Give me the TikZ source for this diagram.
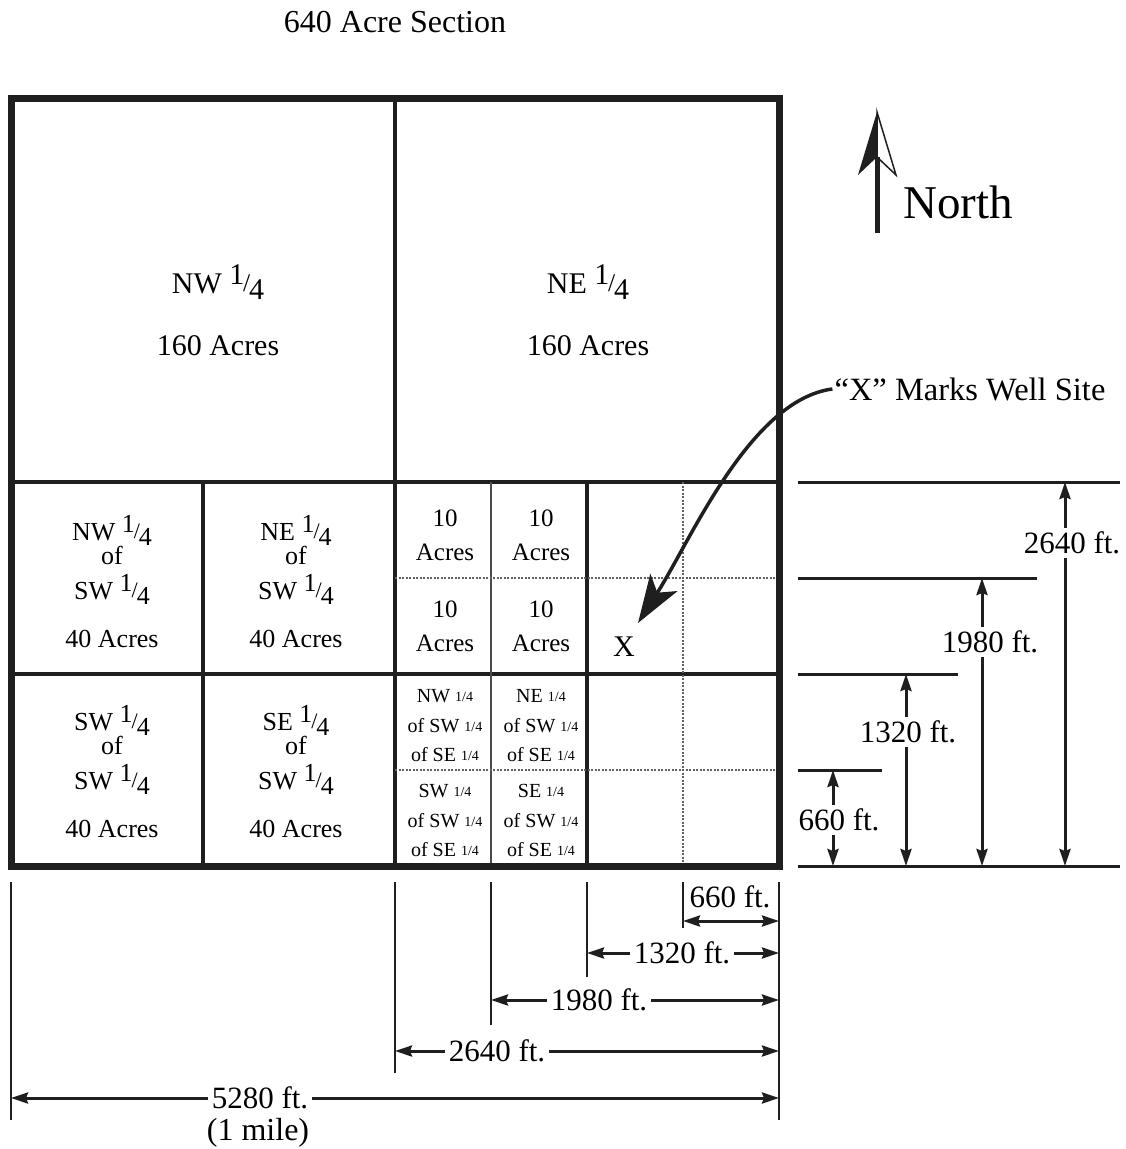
\documentclass[tikz,border=0pt]{standalone}
\usepackage{graphicx}
\usepackage{fontspec}
\setmainfont{Liberation Serif}
\usetikzlibrary{arrows.meta}
\newcommand\qf{\raisebox{.3em}{1}\kern-.04em\raisebox{.04em}{\scalebox{.85}{/}}\kern-.04em\raisebox{-.22em}{4}}
\newcommand\sq{\raisebox{.04em}{\fontsize{14}{14}\selectfont 1/4}}
\definecolor{ink}{gray}{0.12}
\begin{document}
\begin{tikzpicture}[x=1pt,y=-1pt,
  fs/.style={font=\fontsize{#1}{#1}\selectfont},
  txt/.style={inner sep=0pt, anchor=base},
  dlbl/.style={inner sep=4pt, anchor=center, fs=31},
  thickln/.style={draw=ink, line width=4pt},
  thinln/.style={draw=ink!80, line width=1.5pt},
  dashln/.style={draw=ink!70, line width=1.2pt, dash pattern=on 2pt off 1.5pt},
  extln/.style={draw=ink, line width=2.5pt},
  dimln/.style={draw=ink, line width=3pt},
  dtip/.tip={Stealth[length=17pt,width=11pt,inset=2pt]}]
\fill[white] (0,0) rectangle (1126,1149);
\useasboundingbox (0,0) rectangle (1126,1149);

% ---------- grid ----------
\draw[thickln] (395,98) -- (395,866);
\draw[thickln] (11,482) -- (779,482);
\draw[thickln] (11,674) -- (779,674);
\draw[thickln] (203,482) -- (203,866);
\draw[thickln] (587,482) -- (587,866);
\draw[thinln] (491,482) -- (491,866);
\draw[dashln] (395,578) -- (779,578);
\draw[dashln] (395,770) -- (779,770);
\draw[dashln] (683,482) -- (683,866);
\draw[draw=ink, line width=7pt] (11,98) rectangle (779,866);

% ---------- title ----------
\node[txt,fs=32] (title) at (395,32) {640 Acre Section};

% ---------- quarters ----------
\node[txt,fs=30] (nwq) at (218,293) {NW \qf};
\node[txt,fs=30] (nwa) at (218,355) {160 Acres};
\node[txt,fs=30] (neq) at (588,293) {NE \qf};
\node[txt,fs=30] (nea) at (588,355) {160 Acres};

% ---------- 40 acre cells ----------
\foreach \cx/\cy/\a/\id in {112/540/NW/ca, 296/540/NE/cb, 112/730/SW/cc, 296/730/SE/cd} {
  \node[txt,fs=26] (\id1) at (\cx,\cy) {\a\ \qf};
  \node[txt,fs=26] (\id2) at (\cx,\cy+24) {of};
  \node[txt,fs=26] (\id3) at (\cx,\cy+59) {SW \qf};
  \node[txt,fs=26] (\id4) at (\cx,\cy+107) {40 Acres};
}

% ---------- 10 acre cells ----------
\foreach \cx/\cy/\id in {445/526/ta, 541/526/tb, 445/617/tc, 541/617/td} {
  \node[txt,fs=25] (\id1) at (\cx,\cy) {10};
  \node[txt,fs=25] (\id2) at (\cx,\cy+34) {Acres};
}

% ---------- 2.5 acre cells ----------
\foreach \cx/\cy/\a/\id in {445/702/NW/sa, 541/702/NE/sb, 445/797/SW/sc, 541/797/SE/sd} {
  \node[txt,fs=20] (\id1) at (\cx,\cy) {\a\ \sq};
  \node[txt,fs=20] (\id2) at (\cx,\cy+30) {of SW \sq};
  \node[txt,fs=20] (\id3) at (\cx,\cy+59.5) {of SE \sq};
}

% ---------- well site ----------
\node[txt,fs=30] (xlbl) at (624,656) {X};
\node[txt,fs=32.5] (well) at (970,400) {“X” Marks Well Site};
\coordinate (wtip) at (638,623);
\draw[draw=ink, line width=3.5pt, -{Stealth[length=48pt,width=32pt,inset=12pt]}]
  ([xshift=-2pt]well.west) .. controls (750,400) and (691,540) .. (wtip);

% ---------- north ----------
\node[txt,fs=47,anchor=base west] (north) at (903,218) {North};
\draw[draw=ink, line width=5pt] (877,233) -- (877,157);
\fill[ink] (877,112) -- (858,175) -- (877,157) -- cycle;
\draw[draw=ink, line width=1.5pt, line join=miter] (877,112) -- (896,175) -- (877,157) -- cycle;

% ---------- right dimensions ----------
\coordinate (e0l) at (798,866); \coordinate (e0r) at (1120,866);
\coordinate (e1l) at (798,770); \coordinate (e1r) at (882,770);
\coordinate (e2l) at (798,674); \coordinate (e2r) at (958,674);
\coordinate (e3l) at (798,578); \coordinate (e3r) at (1037,578);
\coordinate (e4l) at (798,482); \coordinate (e4r) at (1120,482);
\draw[dimln] (e0l) -- (e0r);
\draw[dimln] (e1l) -- (e1r);
\draw[dimln] (e2l) -- (e2r);
\draw[dimln] (e3l) -- (e3r);
\draw[dimln] (e4l) -- (e4r);

\coordinate (v1t) at (833,770); \coordinate (v1b) at (833,866);
\coordinate (v2t) at (906,674); \coordinate (v2b) at (906,866);
\coordinate (v3t) at (982,578); \coordinate (v3b) at (982,866);
\coordinate (v4t) at (1065,482); \coordinate (v4b) at (1065,866);
\node[dlbl] (r660) at (839,820) {660 ft.};
\node[dlbl] (r1320) at (908,732) {1320 ft.};
\node[dlbl] (r1980) at (990,642) {1980 ft.};
\node[dlbl] (r2640) at (1072,543) {2640 ft.};
\draw[dimln,-dtip] (r660.north -| v1t) -- (v1t);
\draw[dimln,-dtip] (r660.south -| v1b) -- (v1b);
\draw[dimln,-dtip] (r1320.north -| v2t) -- (v2t);
\draw[dimln,-dtip] (r1320.south -| v2b) -- (v2b);
\draw[dimln,-dtip] (r1980.north -| v3t) -- (v3t);
\draw[dimln,-dtip] (r1980.south -| v3b) -- (v3b);
\draw[dimln,-dtip] (r2640.north -| v4t) -- (v4t);
\draw[dimln,-dtip] (r2640.south -| v4b) -- (v4b);

% ---------- bottom dimensions ----------
\coordinate (b0) at (11,882);  \coordinate (b0e) at (11,1120);
\coordinate (b1) at (395,882); \coordinate (b1e) at (395,1073);
\coordinate (b2) at (491,882); \coordinate (b2e) at (491,1025);
\coordinate (b3) at (587,882); \coordinate (b3e) at (587,977);
\coordinate (b4) at (683,882); \coordinate (b4e) at (683,928);
\coordinate (b5) at (779,882); \coordinate (b5e) at (779,1120);
\draw[extln] (b0) -- (b0e);
\draw[extln] (b1) -- (b1e);
\draw[extln] (b2) -- (b2e);
\draw[extln] (b3) -- (b3e);
\draw[extln] (b4) -- (b4e);
\draw[extln] (b5) -- (b5e);

\node[dlbl] (h660) at (730,897) {660 ft.};
\coordinate (h660l) at (683,921); \coordinate (h660r) at (779,921);
\draw[dimln,dtip-dtip] (h660l) -- (h660r);

\node[dlbl] (h1320) at (682,953) {1320 ft.};
\draw[dimln,-dtip] (h1320.west) -- (h1320.west -| b3);
\draw[dimln,-dtip] (h1320.east) -- (h1320.east -| b5);

\node[dlbl] (h1980) at (599,1000) {1980 ft.};
\draw[dimln,-dtip] (h1980.west) -- (h1980.west -| b2);
\draw[dimln,-dtip] (h1980.east) -- (h1980.east -| b5);

\node[dlbl] (h2640) at (497,1051) {2640 ft.};
\draw[dimln,-dtip] (h2640.west) -- (h2640.west -| b1);
\draw[dimln,-dtip] (h2640.east) -- (h2640.east -| b5);

\node[dlbl] (h5280) at (260,1098) {5280 ft.};
\node[dlbl,fs=32] (mile) at (258,1133) {(1 mile)};
\draw[dimln,-dtip] (h5280.west) -- (h5280.west -| b0);
\draw[dimln,-dtip] (h5280.east) -- (h5280.east -| b5);
\end{tikzpicture}
\end{document}
